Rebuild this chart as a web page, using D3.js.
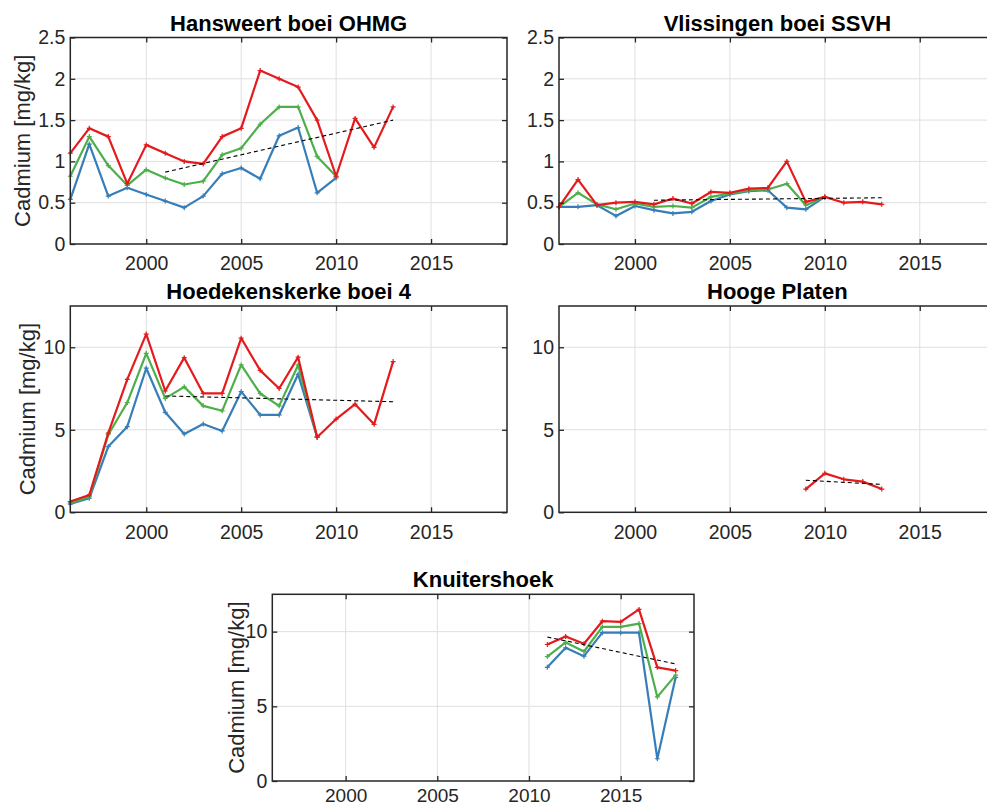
<!DOCTYPE html>
<html>
<head>
<meta charset="utf-8">
<script src="https://cdn.jsdelivr.net/npm/d3@7"></script>
<style>
  body { margin: 0; background: #fff; }
  svg { display: block; font-family: "Liberation Sans", Arial, Helvetica, sans-serif; }
</style>
</head>
<body>
<svg id="chart" width="987" height="807"></svg>
<script>
// tick values
const xTicks = [2000, 2005, 2010, 2015];
const yTicksLow = [0, 0.5, 1, 1.5, 2, 2.5];
const yTicksHigh = [0, 5, 10];

// Hansweert boei OHMG
const hansYearsMax = [1996,1997,1998,1999,2000,2001,2002,2003,2004,2005,2006,2007,2008,2009,2010,2011,2012,2013];
const hansMax  = [1.10,1.40,1.30,0.73,1.20,1.10,1.00,0.97,1.30,1.40,2.10,2.00,1.90,1.50,0.82,1.52,1.17,1.66];
const hansYears = [1996,1997,1998,1999,2000,2001,2002,2003,2004,2005,2006,2007,2008,2009,2010];
const hansMean = [0.82,1.30,0.95,0.71,0.90,0.80,0.72,0.76,1.08,1.16,1.45,1.66,1.66,1.06,0.82];
const hansMin  = [0.54,1.21,0.58,0.68,0.60,0.52,0.44,0.58,0.85,0.92,0.79,1.31,1.41,0.62,0.80];
const hansTrendYears = [2001, 2013];
const hansTrend = [0.87, 1.50];

// Vlissingen boei SSVH
const vlisYearsMax = [1996,1997,1998,1999,2000,2001,2002,2003,2004,2005,2006,2007,2008,2009,2010,2011,2012,2013];
const vlisMax  = [0.45,0.78,0.47,0.50,0.51,0.48,0.55,0.49,0.63,0.62,0.67,0.68,1.00,0.51,0.57,0.50,0.51,0.48];
const vlisYears = [1996,1997,1998,1999,2000,2001,2002,2003,2004,2005,2006,2007,2008,2009,2010];
const vlisMean = [0.45,0.62,0.48,0.42,0.49,0.45,0.46,0.44,0.57,0.61,0.65,0.66,0.73,0.47,0.57];
const vlisMin  = [0.45,0.45,0.47,0.34,0.46,0.41,0.37,0.39,0.52,0.60,0.64,0.65,0.44,0.42,0.57];
const vlisTrendYears = [2001, 2013];
const vlisTrend = [0.53, 0.56];

// Hoedekenskerke boei 4
const hoedYearsMax = [1996,1997,1998,1999,2000,2001,2002,2003,2004,2005,2006,2007,2008,2009,2010,2011,2012,2013];
const hoedMax  = [0.65,1.05,4.80,8.05,10.80,7.35,9.37,7.20,7.20,10.55,8.60,7.50,9.40,4.55,5.65,6.55,5.33,9.13];
const hoedYears = [1996,1997,1998,1999,2000,2001,2002,2003,2004,2005,2006,2007,2008,2009];
const hoedMean = [0.55,0.95,4.70,6.65,9.63,6.90,7.60,6.45,6.15,8.93,7.20,6.45,8.93,4.55];
const hoedMin  = [0.50,0.85,3.98,5.19,8.73,6.06,4.75,5.35,4.93,7.31,5.90,5.90,8.36,4.55];
const hoedTrendYears = [2001, 2013];
const hoedTrend = [7.05, 6.70];

// Hooge Platen
const hoogYears = [2009,2010,2011,2012,2013];
const hoogMax = [1.41,2.36,2.00,1.86,1.41];
const hoogTrendYears = [2009, 2013];
const hoogTrend = [1.94, 1.69];

// Knuitershoek
const knuiYears = [2011,2012,2013,2014,2015,2016,2017,2018];
const knuiMax  = [9.14,9.68,9.19,10.70,10.65,11.49,7.61,7.39];
const knuiMean = [8.33,9.28,8.67,10.32,10.32,10.54,5.63,7.09];
const knuiMin  = [7.61,8.92,8.36,9.93,9.93,9.93,1.49,6.94];
const knuiTrendYears = [2011, 2018];
const knuiTrend = [9.64, 7.84];

const colors = { min: '#377eb8', mean: '#4daf4a', max: '#e41a1c' };

const panels = [
  { title: 'Hansweert boei OHMG', left: 70.3, top: 37.5, width: 436.7, height: 206.5,
    yMax: 2.5, yTicks: yTicksLow, ylabelOffset: 48, xPad: 12.5, xFont: 19.5,
    series: [
      { years: hansYears, values: hansMin, color: colors.min },
      { years: hansYears, values: hansMean, color: colors.mean },
      { years: hansYearsMax, values: hansMax, color: colors.max }],
    trend: { years: hansTrendYears, values: hansTrend } },
  { title: 'Vlissingen boei SSVH', left: 559, top: 37.5, width: 436.7, height: 206.5,
    yMax: 2.5, yTicks: yTicksLow, ylabelOffset: null, xPad: 12.5, xFont: 19.5,
    series: [
      { years: vlisYears, values: vlisMin, color: colors.min },
      { years: vlisYears, values: vlisMean, color: colors.mean },
      { years: vlisYearsMax, values: vlisMax, color: colors.max }],
    trend: { years: vlisTrendYears, values: vlisTrend } },
  { title: 'Hoedekenskerke boei 4', left: 70.3, top: 306, width: 436.7, height: 206.3,
    yMax: 12.5, yTicks: yTicksHigh, ylabelOffset: 43, xPad: 12.5, xFont: 19.5,
    series: [
      { years: hoedYears, values: hoedMin, color: colors.min },
      { years: hoedYears, values: hoedMean, color: colors.mean },
      { years: hoedYearsMax, values: hoedMax, color: colors.max }],
    trend: { years: hoedTrendYears, values: hoedTrend } },
  { title: 'Hooge Platen', left: 559, top: 306, width: 436.7, height: 206.3,
    yMax: 12.5, yTicks: yTicksHigh, ylabelOffset: null, xPad: 12.5, xFont: 19.5,
    series: [
      { years: hoogYears, values: hoogMax, color: colors.max }],
    trend: { years: hoogTrendYears, values: hoogTrend } },
  { title: 'Knuitershoek', left: 272.3, top: 594.3, width: 421.7, height: 186.7,
    yMax: 12.5, yTicks: yTicksHigh, ylabelOffset: 36, xPad: 7.5, xFont: 19,
    series: [
      { years: knuiYears, values: knuiMin, color: colors.min },
      { years: knuiYears, values: knuiMean, color: colors.mean },
      { years: knuiYears, values: knuiMax, color: colors.max }],
    trend: { years: knuiTrendYears, values: knuiTrend } }
];

const svg = d3.select('#chart');
const axisColor = '#262626';
const gridColor = '#dfdfdf';

panels.forEach(p => {
  const g = svg.append('g').attr('transform', `translate(${p.left},${p.top})`);
  const x = d3.scaleLinear().domain([1996, 2019]).range([0, p.width]);
  const y = d3.scaleLinear().domain([0, p.yMax]).range([p.height, 0]);

  // grid
  g.append('g').selectAll('line').data(xTicks).join('line')
    .attr('x1', d => x(d)).attr('x2', d => x(d))
    .attr('y1', 0).attr('y2', p.height)
    .attr('stroke', gridColor).attr('stroke-width', 1);
  g.append('g').selectAll('line').data(p.yTicks.filter(v => v > 0 && v < p.yMax)).join('line')
    .attr('x1', 0).attr('x2', p.width)
    .attr('y1', d => y(d)).attr('y2', d => y(d))
    .attr('stroke', gridColor).attr('stroke-width', 1);

  // series
  const line = d3.line().x(d => x(d[0])).y(d => y(d[1]));
  p.series.forEach(s => {
    const pts = s.years.map((yr, i) => [yr, s.values[i]]);
    g.append('path').datum(pts)
      .attr('d', line)
      .attr('fill', 'none')
      .attr('stroke', s.color)
      .attr('stroke-width', 2.2)
      .attr('stroke-linejoin', 'round');
    g.append('g').selectAll('path').data(pts).join('path')
      .attr('d', d => `M${x(d[0]) - 2.5},${y(d[1])}h5M${x(d[0])},${y(d[1]) - 2.5}v5`)
      .attr('stroke', s.color)
      .attr('stroke-width', 1.2);
  });

  // trend
  const tpts = p.trend.years.map((yr, i) => [yr, p.trend.values[i]]);
  g.append('path').datum(tpts)
    .attr('d', line)
    .attr('fill', 'none')
    .attr('stroke', '#000')
    .attr('stroke-width', 1.1)
    .attr('stroke-dasharray', '4,3');

  // axes
  const xAxis = g.append('g').attr('transform', `translate(0,${p.height})`)
    .call(d3.axisBottom(x).tickValues(xTicks).tickFormat(d3.format('d'))
      .tickSize(-5).tickSizeOuter(0).tickPadding(p.xPad));
  const xAxisTop = g.append('g')
    .call(d3.axisTop(x).tickValues(xTicks).tickFormat('').tickSize(-5).tickSizeOuter(0));
  const yAxis = g.append('g')
    .call(d3.axisLeft(y).tickValues(p.yTicks).tickFormat(d3.format('~g'))
      .tickSize(-5).tickSizeOuter(0).tickPadding(5));
  const yAxisRight = g.append('g').attr('transform', `translate(${p.width},0)`)
    .call(d3.axisRight(y).tickValues(p.yTicks).tickFormat('').tickSize(-5).tickSizeOuter(0));

  [xAxis, xAxisTop, yAxis, yAxisRight].forEach(a => {
    a.select('.domain').remove();
    a.selectAll('line').attr('stroke', axisColor).attr('stroke-width', 1.3);
    a.selectAll('text').attr('fill', axisColor).style('font-size', '19.5px');
  });
  xAxis.selectAll('text').style('font-size', p.xFont + 'px');

  g.append('rect')
    .attr('width', p.width).attr('height', p.height)
    .attr('fill', 'none').attr('stroke', axisColor).attr('stroke-width', 1.5);

  g.append('text')
    .attr('x', p.width / 2).attr('y', -7)
    .attr('text-anchor', 'middle')
    .style('font-size', '22px').style('font-weight', 'bold')
    .attr('fill', '#000')
    .text(p.title);

  if (p.ylabelOffset) {
    g.append('text')
      .attr('transform', `translate(${-p.ylabelOffset},${p.height / 2}) rotate(-90)`)
      .attr('text-anchor', 'middle')
      .attr('dy', '0.35em')
      .style('font-size', '22px')
      .attr('fill', axisColor)
      .text('Cadmium [mg/kg]');
  }
});
</script>
</body>
</html>
